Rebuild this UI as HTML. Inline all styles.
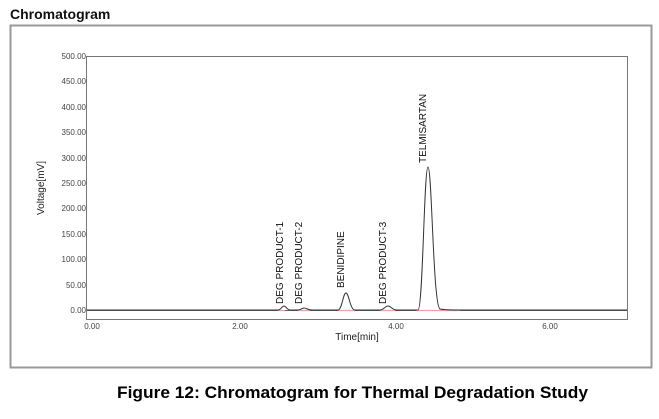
<!DOCTYPE html>
<html><head><style>
body{margin:0;background:#fff;width:659px;height:414px;overflow:hidden}
</style></head><body>
<svg width="659" height="414" xmlns="http://www.w3.org/2000/svg" font-family="Liberation Sans, sans-serif">
<text x="10" y="19" font-size="14" font-weight="bold" fill="#111">Chromatogram</text>
<rect x="10.5" y="25.5" width="641" height="342" fill="none" stroke="#999" stroke-width="2"/>
<rect x="86.5" y="56.5" width="541" height="263" fill="none" stroke="#777" stroke-width="1"/>
<g font-size="8" fill="#444" text-anchor="end">
<text x="86" y="59">500.00</text><text x="86" y="84">450.00</text><text x="86" y="110">400.00</text>
<text x="86" y="135">350.00</text><text x="86" y="161">300.00</text><text x="86" y="186">250.00</text>
<text x="86" y="211">200.00</text><text x="86" y="237">150.00</text><text x="86" y="262">100.00</text>
<text x="86" y="288">50.00</text><text x="86" y="313">0.00</text>
</g>
<g font-size="8" fill="#444" text-anchor="middle">
<text x="92" y="329">0.00</text><text x="240" y="329">2.00</text><text x="396" y="329">4.00</text><text x="550" y="329">6.00</text>
</g>
<text x="357" y="340" font-size="10" text-anchor="middle" fill="#222">Time[min]</text>
<text transform="translate(44,188) rotate(-90)" font-size="10" text-anchor="middle" fill="#222">Voltage[mV]</text>
<line x1="87" y1="310.5" x2="627" y2="310.5" stroke="#666" stroke-width="1"/>
<path d="M278,310.5 L285,310.5 M298,310.5 L310,310.5 M338,310.5 L355,310.5 M380,310.5 L395,310.5 M416,310.5 L460,310.5" stroke="#f4a0a0" stroke-width="1.2"/>
<path d="M87,310 L278,310 C281,310 282,306 284,306 C286,306 287,310 290,310 L298,310 C301,310 302,308 304,308 C306,308 308,310 312,310 L338,310 C342,310 343,293 346,293 C349,293 350,310 355,310 L380,310 C384,310 385,306 388,306 C391,306 392,310 397,310 L418,310 C423,310 424,167 428,167 C432,167 433,306 440,309 C444,310 450,310 460,310 L627,310" fill="none" stroke="#333" stroke-width="1"/>
<g font-size="10" fill="#111">
<text transform="translate(283,304) rotate(-90)">DEG PRODUCT-1</text>
<text transform="translate(302,304) rotate(-90)">DEG PRODUCT-2</text>
<text transform="translate(344,288) rotate(-90)">BENIDIPINE</text>
<text transform="translate(386,304) rotate(-90)">DEG PRODUCT-3</text>
<text transform="translate(426,163) rotate(-90)">TELMISARTAN</text>
</g>
<text x="117" y="398" font-size="17" font-weight="bold" fill="#000" textLength="471" lengthAdjust="spacingAndGlyphs">Figure 12: Chromatogram for Thermal Degradation Study</text>
</svg>
</body></html>
